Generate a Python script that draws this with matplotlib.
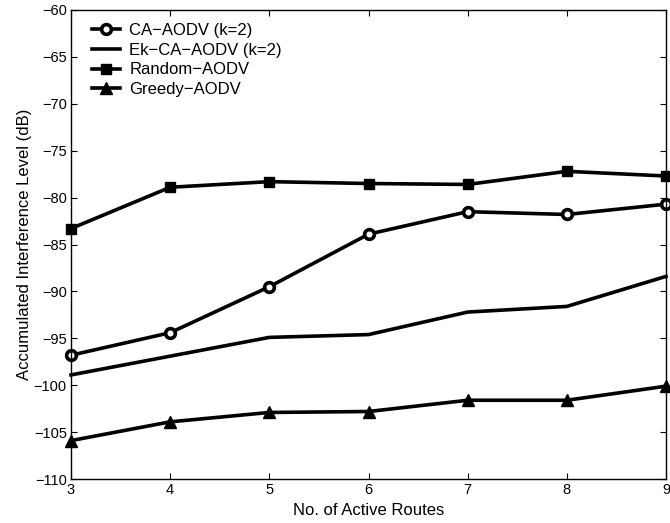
import matplotlib
matplotlib.use("Agg")
import matplotlib.pyplot as plt

plt.rcParams["font.family"] = ["Liberation Sans", "DejaVu Sans"]

routes = [3, 4, 5, 6, 7, 8, 9]
ca_aodv = [-96.8, -94.4, -89.5, -83.9, -81.5, -81.8, -80.7]
ek_ca_aodv = [-98.9, -96.9, -94.9, -94.6, -92.2, -91.6, -88.4]
random_aodv = [-83.3, -78.9, -78.3, -78.5, -78.6, -77.2, -77.7]
greedy_aodv = [-105.9, -103.9, -102.9, -102.8, -101.6, -101.6, -100.1]

fig = plt.figure(figsize=(6.7, 5.23), dpi=100)
ax = fig.add_axes([0.106, 0.084, 0.888, 0.897])

lw = 2.6
ax.plot(routes, ca_aodv, color="k", linewidth=lw, marker="o", markersize=7,
        markerfacecolor="white", markeredgewidth=2.6, clip_on=False,
        label="CA\u2212AODV (k=2)")
ax.plot(routes, ek_ca_aodv, color="k", linewidth=lw, clip_on=False,
        label="Ek\u2212CA\u2212AODV (k=2)")
ax.plot(routes, random_aodv, color="k", linewidth=lw, marker="s", markersize=6.5,
        clip_on=False, label="Random\u2212AODV")
ax.plot(routes, greedy_aodv, color="k", linewidth=lw, marker="^", markersize=8.5,
        clip_on=False, label="Greedy\u2212AODV")

ax.set_xlim(3, 9)
ax.set_ylim(-110, -60)
ax.set_xticks(routes)
ax.set_yticks(range(-110, -59, 5))
ax.tick_params(direction="in", top=True, right=True, labelsize=10.5, length=4, pad=3)
for s in ax.spines.values():
    s.set_linewidth(1)

ax.set_xlabel("No. of Active Routes", fontsize=12, labelpad=4)
ax.set_ylabel("Accumulated Interference Level (dB)", fontsize=12, labelpad=1)

ax.legend(loc="upper left", bbox_to_anchor=(0.024, 0.987), frameon=False,
          fontsize=12, handlelength=1.7, labelspacing=0.29, borderpad=0.4,
          borderaxespad=0, handletextpad=0.55)

fig.savefig("out.png", dpi=100)
